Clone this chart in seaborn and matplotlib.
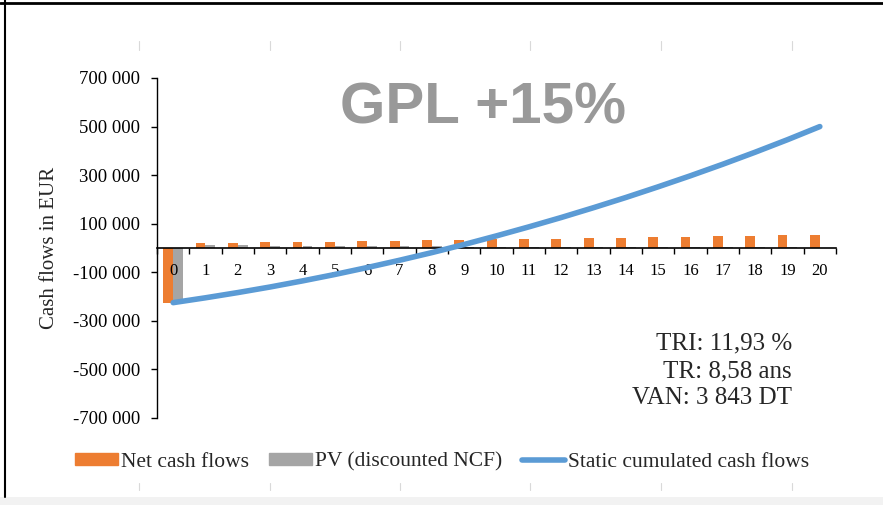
import numpy as np
import pandas as pd
import matplotlib
matplotlib.use('Agg')
import matplotlib.pyplot as plt
import seaborn as sns
from matplotlib.lines import Line2D
from matplotlib.patches import Patch, Rectangle

# data
years = list(range(21))
net_cash_flows = [-225000, 20000, 21500, 23000, 25000, 26500, 28500, 30000, 31500, 33500, 35500,
                  37000, 38500, 40500, 42000, 44000, 45500, 47500, 49500, 51500, 54000]
pv_discounted = [-225000, 12000, 11000, 10000, 9500, 8500, 8000, 7500, 7000, 6000, 5500,
                 5000, 4500, 4000, 3800, 3500, 3000, 2800, 2500, 2200, 2000]
static_cumulated = [-225000, -205000, -183500, -160500, -135500, -109000, -80500, -50500, -19000, 14500, 50000,
                    87000, 125500, 166000, 208000, 252000, 297500, 345000, 394500, 446000, 500000]
x_labels = [str(y) for y in years]
y_ticks = [-700000, -500000, -300000, -100000, 100000, 300000, 500000, 700000]
y_tick_labels = ["-700 000", "-500 000", "-300 000", "-100 000", "100 000", "300 000", "500 000", "700 000"]
bar_series = ["Net cash flows", "PV (discounted NCF)"]
line_series = "Static cumulated cash flows"
kpis = ["TRI: 11,93 %", "TR: 8,58 ans", "VAN: 3 843 DT"]

orange = '#ED7D31'
gray = '#A5A5A5'
blue = '#5B9BD5'

sns.set_style("ticks")
plt.rcParams['font.family'] = ['Liberation Serif', 'DejaVu Serif']
plt.rcParams['axes.edgecolor'] = 'black'
plt.rcParams['xtick.color'] = 'black'
plt.rcParams['ytick.color'] = 'black'

df = pd.DataFrame({
    'year': years * 2,
    'value': net_cash_flows + pv_discounted,
    'serie': [bar_series[0]] * len(years) + [bar_series[1]] * len(years),
})

W, H = 883, 505
fig = plt.figure(figsize=(W / 100, H / 100), dpi=100)
ax = fig.add_axes([157 / W, 1 - 418 / H, 679 / W, 340 / H])

sns.barplot(data=df, x='year', y='value', hue='serie', palette=[orange, gray],
            width=0.6, dodge=True, linewidth=0, saturation=1, ax=ax, legend=False)
sns.lineplot(x=years, y=static_cumulated, color=blue, linewidth=4, ax=ax,
             legend=False, solid_capstyle='round', zorder=3)
ax.set_axisbelow(False)

ax.set_xlim(-0.5, 20.5)
ax.set_ylim(-700000, 700000)
ax.set_xlabel('')
ax.set_ylabel('')

ax.spines['top'].set_visible(False)
ax.spines['right'].set_visible(False)
ax.spines['bottom'].set_position(('data', 0))
ax.spines['bottom'].set_linewidth(1.2)
ax.spines['left'].set_linewidth(1.0)

ax.set_xticks(years)
ax.set_xticklabels(x_labels, fontsize=12)
ax.tick_params(axis='x', which='major', length=0, pad=11)
ax.set_xticks(np.arange(-0.5, 21, 1), minor=True)
ax.tick_params(axis='x', which='minor', length=4, width=1, direction='out')
ax.set_yticks(y_ticks)
ax.set_yticklabels(y_tick_labels, fontsize=13.5)
ax.tick_params(axis='y', length=4, width=1, direction='out', pad=8)

fig.text(50 / W, 1 - 248 / H, 'Cash flows in EUR', rotation=90, fontsize=15,
         ha='center', va='center')
fig.text(483 / W, 1 - 109 / H, 'GPL +15%', fontsize=42, fontweight='bold',
         color='#999999', family='Liberation Sans', ha='center', va='center')
fig.text(792 / W, 1 - 371 / H, '\n'.join(kpis), ha='right', va='center',
         multialignment='right', fontsize=18, linespacing=1.32)

handles = [Patch(color=orange), Patch(color=gray), Line2D([0], [0], color=blue, lw=4)]
fig.legend(handles, bar_series + [line_series], loc='center',
           bbox_to_anchor=(442 / W, 1 - 462 / H), ncol=3, frameon=False, fontsize=15.5,
           handlelength=2.0, handleheight=0.45, handletextpad=0.15, columnspacing=0.9)

# page frame around the chart
fig.add_artist(Line2D([0, 1], [1 - 2.5 / H, 1 - 2.5 / H], color='black', lw=2, transform=fig.transFigure))
fig.add_artist(Line2D([5 / W, 5 / W], [1 - 497 / H, 1], color='black', lw=1.5, transform=fig.transFigure))
fig.add_artist(Rectangle((0, 0), 1, 8 / H, color='#f2f2f2', transform=fig.transFigure, lw=0))
for px in [139, 270, 400, 530, 661, 792]:
    fig.add_artist(Line2D([px / W, px / W], [1 - 50 / H, 1 - 41 / H], color='#d9d9d9', lw=0.8, transform=fig.transFigure))
    fig.add_artist(Line2D([px / W, px / W], [1 - 490 / H, 1 - 483 / H], color='#d9d9d9', lw=0.8, transform=fig.transFigure))

fig.savefig('out.png', dpi=100)
